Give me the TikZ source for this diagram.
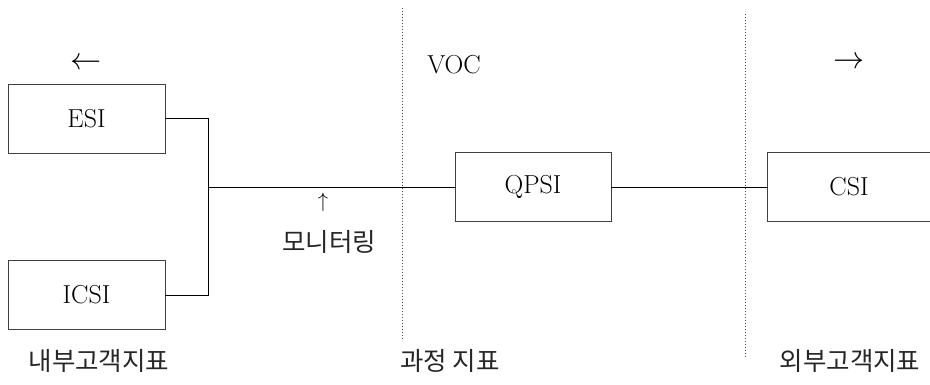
\documentclass[tikz,border=0pt]{standalone}
\usepackage{fontspec}
\newfontfamily\kr{Noto Sans CJK KR}
\begin{document}
\begin{tikzpicture}[x=1pt,y=-1pt,
  box/.style={draw=black!75,line width=0.9pt,minimum width=157pt,minimum height=69pt,inner sep=0pt,font=\fontsize{26}{28}\selectfont},
  conn/.style={draw=black,line width=0.8pt},
  sep/.style={draw=black!70,line width=1pt,dotted},
  krlab/.style={font=\kr\fontsize{25.5}{27}\selectfont,text=black!85,inner sep=0pt},
  lab/.style={font=\fontsize{26}{28}\selectfont,inner sep=0pt},
  arr/.style={font=\fontsize{24.88}{28}\selectfont,inner sep=0pt,scale=1.25}]
\useasboundingbox (0,0) rectangle (930,385);
\node[box] (esi) at (86.5,118.5) {ESI};
\node[box] (icsi) at (86.5,295) {ICSI};
\node[box,minimum width=156pt] (qpsi) at (533,187) {QPSI};
\node[box,minimum width=164pt] (csi) at (849,187) {CSI};
\coordinate (j) at (208,187);
\draw[conn] (esi.east) -| (j);
\draw[conn] (icsi.east) -| (j);
\draw[conn] (j) -- (qpsi.west);
\draw[conn] (qpsi.east) -- (csi.west);
\coordinate (d1t) at (402,8); \coordinate (d1b) at (402,341);
\coordinate (d2t) at (745,14); \coordinate (d2b) at (745,357);
\draw[sep] (d1t) -- (d1b);
\draw[sep] (d2t) -- (d2b);
\node[arr] (larr) at (86,64) {$\leftarrow$};
\node[arr] (rarr) at (849,63) {$\rightarrow$};
\node[lab] (voc) at (454,65) {VOC};
\node[font=\fontsize{17.28}{20}\selectfont,inner sep=0pt,scale=1.2] (uarr) at (323,202) {$\uparrow$};
\node[krlab] (mon) at (329,242) {모니터링};
\node[krlab] (inner) at (99,361) {내부고객지표};
\node[krlab] (proc) at (450,361) {과정 지표};
\node[krlab] (outer) at (850,361) {외부고객지표};
\end{tikzpicture}
\end{document}
